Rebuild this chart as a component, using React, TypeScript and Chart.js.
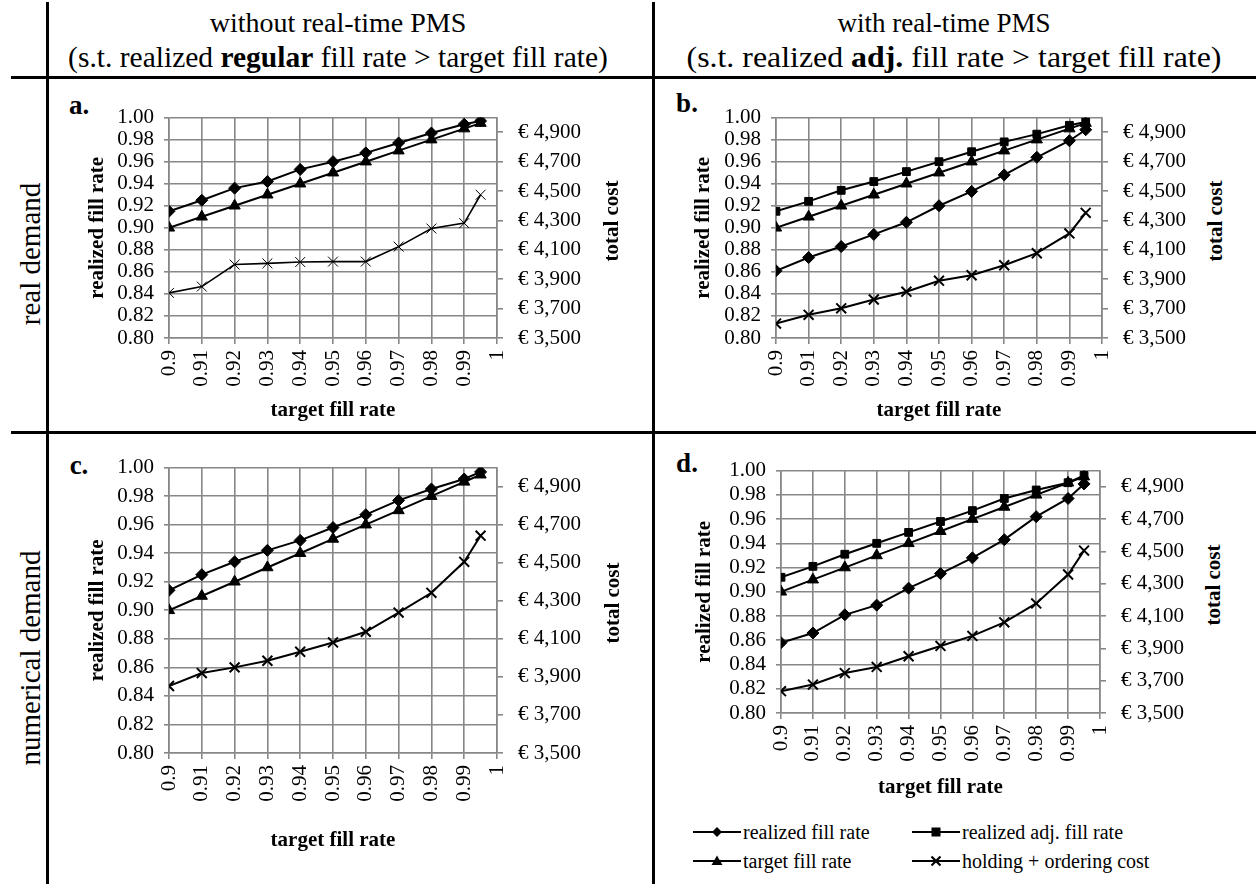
import React, { useEffect, useRef } from "react";
import { Chart, registerables } from "chart.js";

Chart.register(...registerables);

const FONT = "'Liberation Serif', Tinos, 'Times New Roman', Times, 'Nimbus Roman', 'DejaVu Serif', serif";
const GRID = "#878787";

// ---------- data ----------
const targetRates = [0.9, 0.91, 0.92, 0.93, 0.94, 0.95, 0.96, 0.97, 0.98, 0.99, 0.995];
const xTickValues = [0.9, 0.91, 0.92, 0.93, 0.94, 0.95, 0.96, 0.97, 0.98, 0.99, 1];
const xTickLabels = ["0.9", "0.91", "0.92", "0.93", "0.94", "0.95", "0.96", "0.97", "0.98", "0.99", "1"];
const fillTickValues = [0.8, 0.82, 0.84, 0.86, 0.88, 0.9, 0.92, 0.94, 0.96, 0.98, 1.0];
const fillTickLabels = ["0.80", "0.82", "0.84", "0.86", "0.88", "0.90", "0.92", "0.94", "0.96", "0.98", "1.00"];
const costTickValues = [3500, 3700, 3900, 4100, 4300, 4500, 4700, 4900];
const costTickLabels = ["€ 3,500", "€ 3,700", "€ 3,900", "€ 4,100", "€ 4,300", "€ 4,500", "€ 4,700", "€ 4,900"];

// panel a: real demand, without real-time PMS
const aRealized = [0.915, 0.925, 0.936, 0.942, 0.953, 0.96, 0.968, 0.977, 0.986, 0.994, 0.997];
const aCost = [3807, 3850, 4000, 4008, 4017, 4020, 4020, 4122, 4245, 4282, 4475];
// panel b: real demand, with real-time PMS
const bRealized = [0.861, 0.873, 0.883, 0.894, 0.905, 0.92, 0.933, 0.948, 0.964, 0.979, 0.989];
const bAdjusted = [0.915, 0.924, 0.934, 0.942, 0.951, 0.96, 0.969, 0.978, 0.985, 0.993, 0.996];
const bCost = [3598, 3658, 3702, 3762, 3815, 3890, 3927, 3995, 4077, 4212, 4352];
// panel c: numerical demand, without real-time PMS
const cRealized = [0.914, 0.925, 0.934, 0.942, 0.949, 0.958, 0.967, 0.977, 0.985, 0.992, 0.997];
const cCost = [3852, 3920, 3950, 3985, 4032, 4081, 4137, 4238, 4342, 4505, 4642];
// panel d: numerical demand, with real-time PMS
const dRealized = [0.858, 0.866, 0.881, 0.889, 0.903, 0.915, 0.928, 0.943, 0.962, 0.977, 0.989];
const dAdjusted = [0.912, 0.921, 0.931, 0.94, 0.949, 0.958, 0.967, 0.977, 0.984, 0.99, 0.996];
const dCost = [3635, 3676, 3747, 3785, 3851, 3915, 3977, 4061, 4178, 4357, 4505];

type SeriesSpec = {
  label: string;
  data: number[];
  style: string;
  axis: string;
  radius: number;
  lineWidth: number;
  pointBorderWidth: number;
};

const realizedSeries = (d: number[]): SeriesSpec => ({
  label: "realized fill rate", data: d, style: "rectRot", axis: "y", radius: 6, lineWidth: 2, pointBorderWidth: 1,
});
const adjustedSeries = (d: number[]): SeriesSpec => ({
  label: "realized adj. fill rate", data: d, style: "rect", axis: "y", radius: 5.5, lineWidth: 2, pointBorderWidth: 1,
});
const targetSeries = (): SeriesSpec => ({
  label: "target fill rate", data: targetRates, style: "triangle", axis: "y", radius: 6.5, lineWidth: 2, pointBorderWidth: 1,
});
const costSeries = (d: number[], thin: boolean): SeriesSpec => ({
  label: "holding + ordering cost", data: d, style: "crossRot", axis: "y1", radius: 7,
  lineWidth: thin ? 1.6 : 2, pointBorderWidth: thin ? 1 : 2,
});

type PanelProps = {
  left: number; top: number; width: number; height: number;
  padTop: number; leftW: number; rightW: number; xH: number;
  series: SeriesSpec[];
};

function PanelChart(p: PanelProps) {
  const ref = useRef<HTMLCanvasElement | null>(null);
  useEffect(() => {
    if (!ref.current) return;
    const tickFont = { family: FONT, size: 21 };
    const titleFont = { family: FONT, size: 21, weight: "bold" as const };
    const chart = new Chart(ref.current, {
      type: "line",
      data: {
        datasets: p.series.map((s) => ({
          label: s.label,
          data: targetRates.map((x, i) => ({ x, y: s.data[i] })),
          yAxisID: s.axis,
          borderColor: "#000",
          backgroundColor: "#000",
          borderWidth: s.lineWidth,
          pointStyle: s.style as any,
          pointRadius: s.radius,
          pointHoverRadius: s.radius,
          pointBorderWidth: s.pointBorderWidth,
          pointBackgroundColor: "#000",
          pointBorderColor: "#000",
          tension: 0,
          fill: false,
        })),
      },
      options: {
        responsive: false,
        maintainAspectRatio: false,
        animation: false,
        layout: { padding: { top: p.padTop, left: 0, right: 0, bottom: 0 } },
        plugins: { legend: { display: false }, tooltip: { enabled: false } },
        scales: {
          x: {
            type: "linear",
            min: 0.9,
            max: 1,
            afterBuildTicks: (s: any) => { s.ticks = xTickValues.map((v) => ({ value: v })); },
            afterFit: (s: any) => { s.height = p.xH; },
            ticks: {
              autoSkip: false, maxRotation: 90, minRotation: 90, padding: 6, color: "#000", font: tickFont,
              callback: (_v: any, i: number) => xTickLabels[i],
            },
            grid: { color: GRID, lineWidth: 1.6, tickLength: 6 },
            border: { color: GRID, width: 1.6 },
            title: { display: true, text: "target fill rate", color: "#000", font: titleFont, padding: { top: 0, bottom: 1 } },
          },
          y: {
            type: "linear",
            position: "left",
            min: 0.8,
            max: 1.0,
            afterBuildTicks: (s: any) => { s.ticks = fillTickValues.map((v) => ({ value: v })); },
            afterFit: (s: any) => { s.width = p.leftW; },
            ticks: { autoSkip: false, color: "#000", font: tickFont, padding: 10, callback: (_v: any, i: number) => fillTickLabels[i] },
            grid: { color: GRID, lineWidth: 1.6, tickLength: 5 },
            border: { color: GRID, width: 1.6 },
            title: { display: true, text: "realized fill rate", color: "#000", font: titleFont, padding: { top: 1.5, bottom: 0 } },
          },
          y1: {
            type: "linear",
            position: "right",
            min: 3500,
            max: 5000,
            afterBuildTicks: (s: any) => { s.ticks = costTickValues.map((v) => ({ value: v })); },
            afterFit: (s: any) => { s.width = p.rightW; },
            ticks: { autoSkip: false, color: "#000", font: tickFont, padding: 15, callback: (_v: any, i: number) => costTickLabels[i] },
            grid: { drawOnChartArea: false, color: GRID, lineWidth: 1.6, tickLength: 6 },
            border: { color: GRID, width: 1.6 },
          },
        },
      } as any,
    });
    return () => chart.destroy();
  }, []);
  return (
    <canvas
      ref={ref}
      width={p.width}
      height={p.height}
      style={{ position: "absolute", left: p.left, top: p.top, width: p.width, height: p.height }}
    />
  );
}

function Txt(props: { x: number; y: number; text: React.ReactNode; size: number; bold?: boolean; rotate?: boolean; sx?: number }) {
  return (
    <div
      style={{
        position: "absolute",
        left: props.x,
        top: props.y,
        transform: `translate(-50%, -50%)${props.rotate ? " rotate(-90deg)" : ""}${props.sx ? ` scaleX(${props.sx})` : ""}`,
        whiteSpace: "nowrap",
        fontFamily: FONT,
        fontSize: props.size,
        fontWeight: props.bold ? "bold" : "normal",
        lineHeight: 1,
        color: "#000",
      }}
    >
      {props.text}
    </div>
  );
}

function Line(props: { x: number; y: number; w: number; h: number }) {
  return <div style={{ position: "absolute", left: props.x, top: props.y, width: props.w, height: props.h, background: "#000" }} />;
}

function Marker({ kind }: { kind: string }) {
  let m: React.ReactNode = null;
  if (kind === "diamond") m = <polygon points="24,3 29,8 24,13 19,8" fill="#000" />;
  if (kind === "square") m = <rect x="19.5" y="3.5" width="9" height="9" fill="#000" />;
  if (kind === "triangle") m = <polygon points="24,2.5 29.5,12 18.5,12" fill="#000" />;
  if (kind === "cross")
    m = (
      <g stroke="#000" strokeWidth="2.2">
        <line x1="19.5" y1="3.5" x2="28.5" y2="12.5" />
        <line x1="28.5" y1="3.5" x2="19.5" y2="12.5" />
      </g>
    );
  return (
    <svg width="48" height="16" style={{ display: "block" }}>
      <line x1="0" y1="8" x2="48" y2="8" stroke="#000" strokeWidth="2" />
      {m}
    </svg>
  );
}

function LegendItem(props: { x: number; y: number; kind: string; text: string }) {
  return (
    <div
      style={{
        position: "absolute", left: props.x, top: props.y - 11, height: 22,
        display: "flex", alignItems: "center", whiteSpace: "nowrap",
        fontFamily: FONT, fontSize: 20, color: "#000", lineHeight: 1,
      }}
    >
      <Marker kind={props.kind} />
      <span style={{ marginLeft: 2 }}>{props.text}</span>
    </div>
  );
}

export default function App() {
  return (
    <div style={{ position: "absolute", left: 0, top: 0, width: 1256, height: 884, background: "#fff", overflow: "hidden" }}>
      {/* table lines */}
      <Line x={46} y={2} w={3} h={882} />
      <Line x={652} y={2} w={3} h={882} />
      <Line x={11} y={76} w={1245} h={3} />
      <Line x={11} y={431} w={1245} h={3} />

      {/* headers */}
      <Txt x={338} y={23} size={28} text="without real-time PMS" />
      <Txt x={338} y={58} size={29.5} text={<>(s.t. realized <b>regular</b> fill rate &gt; target fill rate)</>} />
      <Txt x={944} y={23} size={27} text="with real-time PMS" />
      <Txt x={954} y={58} size={29.5} sx={1.08} text={<>(s.t. realized <b>adj.</b> fill rate &gt; target fill rate)</>} />

      {/* row labels */}
      <Txt x={30} y={254} size={29} rotate text="real demand" />
      <Txt x={30} y={658} size={29} rotate text="numerical demand" />

      {/* panel letters */}
      <Txt x={79} y={105} size={27} bold text="a." />
      <Txt x={687} y={103} size={27} bold text="b." />
      <Txt x={79} y={465} size={27} bold text="c." />
      <Txt x={687} y={463} size={27} bold text="d." />

      <PanelChart left={83} top={90} width={517} height={334} padTop={14} leftW={86} rightW={103} xH={86}
        series={[costSeries(aCost, true), targetSeries(), realizedSeries(aRealized)]} />
      <PanelChart left={689} top={90} width={511} height={334} padTop={14} leftW={87} rightW={98} xH={86}
        series={[costSeries(bCost, false), realizedSeries(bRealized), targetSeries(), adjustedSeries(bAdjusted)]} />
      <PanelChart left={83} top={440} width={517} height={414} padTop={14} leftW={86} rightW={103} xH={101}
        series={[costSeries(cCost, false), targetSeries(), realizedSeries(cRealized)]} />
      <PanelChart left={690} top={443} width={510} height={358} padTop={14} leftW={91} rightW={100} xH={88}
        series={[costSeries(dCost, false), realizedSeries(dRealized), targetSeries(), adjustedSeries(dAdjusted)]} />

      {/* right axis titles */}
      <Txt x={611} y={221} size={21} bold rotate text="total cost" />
      <Txt x={1215} y={221} size={21} bold rotate text="total cost" />
      <Txt x={612} y={603} size={21} bold rotate text="total cost" />
      <Txt x={1213} y={585} size={21} bold rotate text="total cost" />

      {/* legend */}
      <LegendItem x={693} y={832} kind="diamond" text="realized fill rate" />
      <LegendItem x={912} y={832} kind="square" text="realized adj. fill rate" />
      <LegendItem x={693} y={861} kind="triangle" text="target fill rate" />
      <LegendItem x={912} y={861} kind="cross" text="holding + ordering cost" />
    </div>
  );
}
